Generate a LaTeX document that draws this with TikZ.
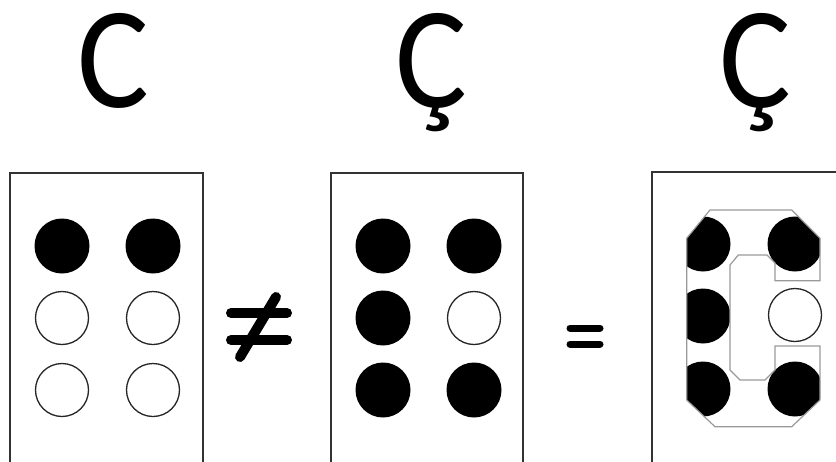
\documentclass[tikz,border=0pt]{standalone}
\usepackage{fontspec}
\setmainfont{Carlito}
\begin{document}
\begin{tikzpicture}[x=1pt,y=-1pt,
  cell/.style={draw=black!80,line width=1.3pt},
  full/.style={circle,fill=black,inner sep=0pt,minimum size=55pt},
  empty/.style={circle,draw=black!85,line width=1.3pt,fill=white,inner sep=0pt,minimum size=53pt},
  letter/.style={inner sep=0pt,anchor=base,xscale=0.93,text height=92pt,text depth=28pt,font=\fontsize{145}{145}\selectfont},
  op/.style={line width=10pt,line cap=round},
  outline/.style={draw=black!40,line width=1.2pt}]
\useasboundingbox (0,0) rectangle (836,461);
% letters
\node[letter] (l1) at (113.5,107) {C};
\node[letter] (l2) at (431.5,107) {Ç};
\node[letter] (l3) at (755.5,107) {Ç};
% cells
\draw[cell] (10,462) -- (10,173) -- (203,173) -- (203,462);
\draw[cell] (331,462) -- (331,173) -- (523,173) -- (523,462);
\draw[cell] (652,462) -- (652,172) -- (837,172);
% cell 1: C
\node[full] (a1) at (62,246) {};
\node[full] (a4) at (153,246) {};
\node[empty] (a2) at (62,318) {};
\node[empty] (a5) at (153,318) {};
\node[empty] (a3) at (62,390) {};
\node[empty] (a6) at (153,390) {};
% not equal
\coordinate (ne1) at (231,313); \coordinate (ne2) at (287,313);
\coordinate (ne3) at (231,340); \coordinate (ne4) at (287,340);
\coordinate (ne5) at (276,297); \coordinate (ne6) at (240,357);
\draw[op] (ne1) -- (ne2);
\draw[op] (ne3) -- (ne4);
\draw[op] (ne5) -- (ne6);
% cell 2: c-cedilla
\node[full] (b1) at (383,246) {};
\node[full] (b4) at (474,246) {};
\node[full] (b2) at (383,318) {};
\node[empty] (b5) at (474,318) {};
\node[full] (b3) at (383,390) {};
\node[full] (b6) at (474,390) {};
% equals
\coordinate (eq1) at (570,328); \coordinate (eq2) at (600,328);
\coordinate (eq3) at (570,344); \coordinate (eq4) at (600,344);
\draw[op,line width=7pt] (eq1) -- (eq2);
\draw[op,line width=7pt] (eq3) -- (eq4);
% cell 3: overlay
\def\cshape{(710,210) -- (791.7,210) -- (820,238.3) -- (820,280.7) -- (775,280.7) -- (775,263) -- (767,255) -- (738.3,255) -- (730,265) -- (730,370) -- (740,380) -- (765,380) -- (775,370) -- (775,346) -- (820,346) -- (820,400) -- (791.7,426.7) -- (715,426.7) -- (686.7,400) -- (686.7,238.3) -- cycle}
\begin{scope}
\clip \cshape;
\node[full] (c1) at (703,244) {};
\node[full] (c4) at (795,244) {};
\node[full] (c2) at (703,316) {};
\node[full] (c3) at (703,389) {};
\node[full] (c6) at (795,389) {};
\end{scope}
\draw[outline] \cshape;
\node[empty] (c5) at (795,315) {};
\end{tikzpicture}
\end{document}
